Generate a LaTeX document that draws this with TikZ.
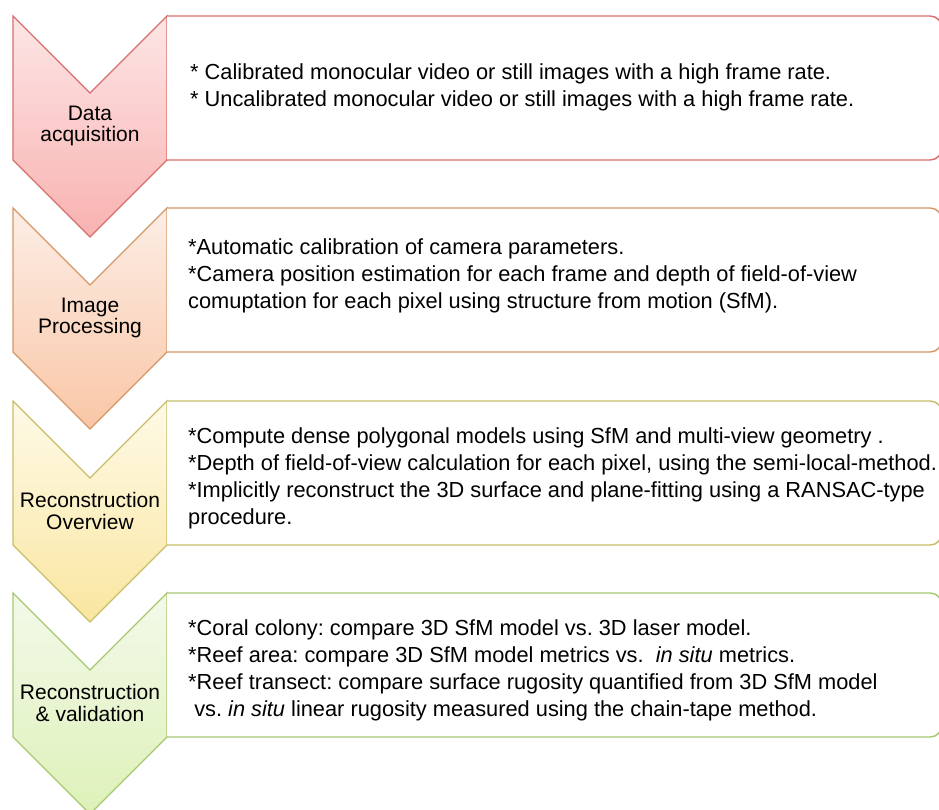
\documentclass[tikz,border=0pt]{standalone}
\usepackage{fontspec}
\setmainfont{Liberation Sans}
\frenchspacing

\definecolor{redline}{RGB}{214,112,110}
\definecolor{redtop}{RGB}{253,230,230}
\definecolor{redbot}{RGB}{248,178,176}
\definecolor{orangeline}{RGB}{212,152,104}
\definecolor{orangetop}{RGB}{253,238,230}
\definecolor{orangebot}{RGB}{249,198,166}
\definecolor{yellowline}{RGB}{200,190,104}
\definecolor{yellowtop}{RGB}{254,250,232}
\definecolor{yellowbot}{RGB}{250,230,160}
\definecolor{greenline}{RGB}{168,200,112}
\definecolor{greentop}{RGB}{243,249,234}
\definecolor{greenbot}{RGB}{222,241,184}

\tikzset{
  stagelabel/.style={font=\fontsize{21}{21.5}\selectfont, align=center, text=black, inner sep=0pt},
  stagetext/.style={font=\fontsize{21.8}{27}\selectfont, align=left, anchor=west, text=black, inner sep=0pt},
  chevronline/.style={line width=1.3pt, line join=miter},
  boxline/.style={line width=1.4pt, rounded corners=12pt},
}

% #1 top edge, #2 line colour, #3 top shade, #4 bottom shade
\newcommand\stagechevron[4]{%
  \path[chevronline, draw=#2, top color=#3, bottom color=#4]
    (13,#1) -- (90,{#1+77}) -- (167,#1) -- (167,{#1+144})
    -- (90,{#1+221}) -- (13,{#1+144}) -- cycle;
  \draw[boxline, draw=#2, fill=white]
    (167,#1) -- (942,#1) -- (942,{#1+144}) -- (167,{#1+144});
}

\begin{document}
\begin{tikzpicture}[x=1pt,y=-1pt]
\useasboundingbox (0,0) rectangle (939,810);
\clip (0,0) rectangle (939,810);
\fill[white] (0,0) rectangle (939,810);

% stage 1
\stagechevron{16}{redline}{redtop}{redbot}
\node[stagelabel] (lab1) at (90,126) {Data\\acquisition};
\node[stagetext] (txt1) at (190,87) {%
* Calibrated monocular video or still images with a high frame rate.\\
* Uncalibrated monocular video or still images with a high frame rate.};

% stage 2
\stagechevron{208}{orangeline}{orangetop}{orangebot}
\node[stagelabel] (lab2) at (90,318) {Image\\Processing};
\node[stagetext] (txt2) at (188,276) {%
*Automatic calibration of camera parameters.\\
*Camera position estimation for each frame and depth of field-of-view\\
comuptation for each pixel using structure from motion (SfM).};

% stage 3
\stagechevron{401}{yellowline}{yellowtop}{yellowbot}
\node[stagelabel] (lab3) at (90,511) {Reconstruction\\Overview};
\node[stagetext] (txt3) at (188,478) {%
*Compute dense polygonal models using SfM and multi-view geometry .\\
*Depth of field-of-view calculation for each pixel, using the semi-local-method.\\
*Implicitly reconstruct the 3D surface and plane-fitting using a RANSAC-type\\
procedure.};

% stage 4
\stagechevron{593}{greenline}{greentop}{greenbot}
\node[stagelabel] (lab4) at (90,703) {Reconstruction\\\&~validation};
\node[stagetext] (txt4) at (188,670) {%
*Coral colony: compare 3D SfM model vs. 3D laser model.\\
*Reef area: compare 3D SfM model metrics vs.~ \textit{in situ} metrics.\\
*Reef transect: compare surface rugosity quantified from 3D SfM model\\
\ vs. \textit{in situ} linear rugosity measured using the chain-tape method.};
\end{tikzpicture}
\end{document}
